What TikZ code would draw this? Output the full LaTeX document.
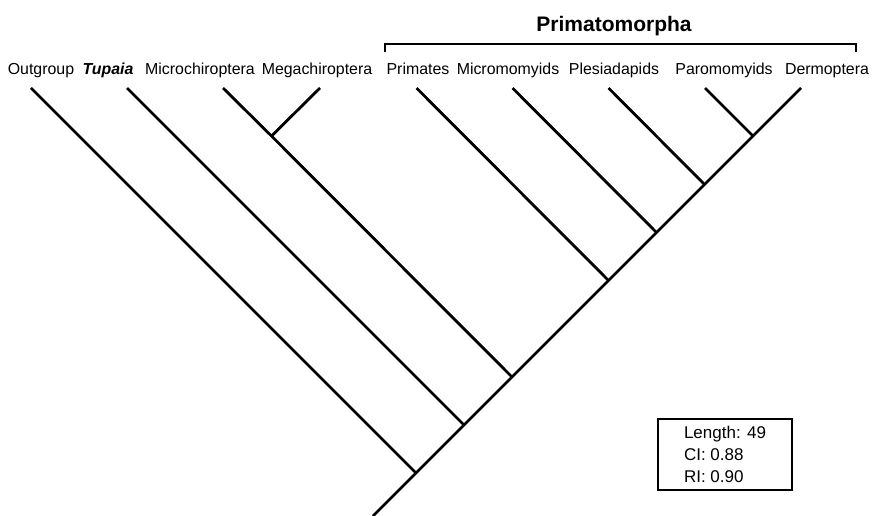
\documentclass[tikz,border=0pt]{standalone}
\usepackage{fontspec}
\setmainfont{Liberation Sans}
\begin{document}
\begin{tikzpicture}[x=1pt,y=-1pt,
  branch/.style={line width=2.8pt},
  taxon/.style={anchor=base,inner sep=0pt,font=\fontsize{15.9}{18}\selectfont},
  cladetitle/.style={anchor=base,inner sep=0pt,font=\fontsize{21}{24}\selectfont\bfseries},
  statbox/.style={draw,line width=1.3pt,minimum width=134pt,minimum height=71pt,align=left,inner sep=0pt,font=\fontsize{17}{22}\selectfont}]
\useasboundingbox (0,0) rectangle (872,516);
% tips
\coordinate (t1) at (31,88);
\coordinate (t2) at (127,88);
\coordinate (t3) at (223,88);
\coordinate (t4) at (320,88);
\coordinate (t5) at (416.5,88);
\coordinate (t6) at (512.5,88);
\coordinate (t7) at (608.5,88);
\coordinate (t8) at (705,88);
\coordinate (t9) at (801,88);
% internal nodes
\coordinate (bats) at (271.5,136);
\coordinate (n89) at (753,136);
\coordinate (n789) at (704.5,184.5);
\coordinate (n6789) at (656.5,232.5);
\coordinate (prm) at (608.5,280.5);
\coordinate (nx) at (512,377);
\coordinate (ntup) at (464,425);
\coordinate (nout) at (416,473);
\coordinate (root) at (373,516);
% branches
\draw[branch] (t9) -- (n89) -- (n789) -- (n6789) -- (prm) -- (nx) -- (ntup) -- (nout) -- (root);
\draw[branch] (t8) -- (n89);
\draw[branch] (t7) -- (n789);
\draw[branch] (t6) -- (n6789);
\draw[branch] (t5) -- (prm);
\draw[branch] (t4) -- (bats);
\draw[branch] (t3) -- (bats) -- (nx);
\draw[branch] (t2) -- (ntup);
\draw[branch] (t1) -- (nout);
% labels
\node[taxon] (l1) at (41,75) {Outgroup};
\node[taxon] (l2) at (108,75) {\textbf{\textit{Tupaia}}};
\node[taxon] (l3) at (200,75) {Microchiroptera};
\node[taxon] (l4) at (317,75) {Megachiroptera};
\node[taxon] (l5) at (418,75) {Primates};
\node[taxon] (l6) at (508,75) {Micromomyids};
\node[taxon] (l7) at (614,75) {Plesiadapids};
\node[taxon] (l8) at (724,75) {Paromomyids};
\node[taxon] (l9) at (827,75) {Dermoptera};
% clade bracket
\coordinate (bl) at (385,52);
\coordinate (br) at (856,52);
\draw[line width=2pt] (bl) -- ++(0,-8) -| (br);
\node[cladetitle] (title) at (614,32) {Primatomorpha};
% stats
\node[statbox] (stats) at (725,454.5) {Length: 49\\CI: 0.88\\RI: 0.90};
\end{tikzpicture}
\end{document}
